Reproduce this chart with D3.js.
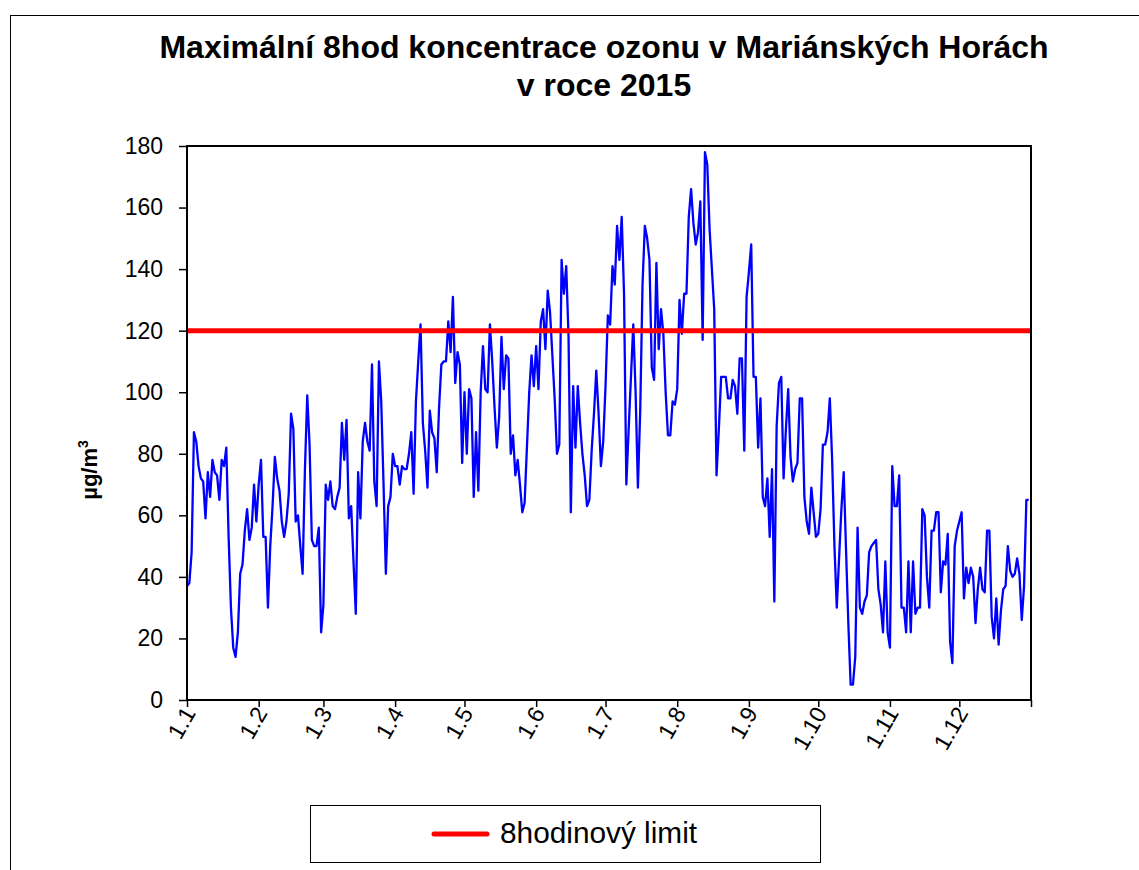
<!DOCTYPE html>
<html>
<head>
<meta charset="utf-8">
<script src="https://cdn.jsdelivr.net/npm/d3@7"></script>
<style>
  html, body { margin: 0; padding: 0; background: #fff; }
  svg { display: block; font-family: "Liberation Sans", Arial, sans-serif; }
</style>
</head>
<body>
<svg id="chart" width="1139" height="870"></svg>
<script>
// ---- data ----
const titleLines = ["Maximální 8hod koncentrace ozonu v Mariánských Horách", "v roce 2015"];
const yLabel = "µg/m";
const limitValue = 120;
const limitLabel = "8hodinový limit";
const monthLabels = ["1.1","1.2","1.3","1.4","1.5","1.6","1.7","1.8","1.9","1.10","1.11","1.12"];
const monthStartDays = [0,31,59,90,120,151,181,212,243,273,304,334];
const yTicks = [0,20,40,60,80,100,120,140,160,180];
const ozone = [
  37, 38, 48, 87, 84, 76, 72, 71, 59, 74,
  66, 78, 74, 73, 65, 78, 76, 82, 53, 30,
  17, 14, 22, 41, 44, 55, 62, 52, 56, 70,
  58, 70, 78, 53, 53, 30, 50, 63, 79, 72,
  68, 58, 53, 58, 67, 93, 88, 58, 60, 50,
  41, 75, 99, 83, 52, 50, 50, 56, 22, 31,
  70, 65, 71, 63, 62, 66, 69, 90, 78, 91,
  59, 63, 45, 28, 74, 59, 84, 90, 84, 81,
  109, 71, 63, 110, 97, 70, 41, 63, 66, 80,
  76, 76, 70, 76, 75, 75, 80, 87, 67, 97,
  110, 122, 90, 81, 69, 94, 87, 85, 74, 95,
  109, 110, 110, 123, 113, 131, 103, 113, 109, 77,
  100, 80, 101, 98, 66, 87, 68, 100, 115, 101,
  100, 122, 110, 95, 82, 92, 118, 101, 112, 111,
  80, 86, 73, 78, 70, 61, 64, 82, 100, 112,
  102, 115, 101, 123, 127, 114, 133, 126, 112, 98,
  80, 83, 143, 132, 141, 118, 61, 102, 82, 102,
  90, 80, 73, 63, 65, 81, 93, 107, 93, 76,
  84, 102, 125, 122, 141, 135, 154, 143, 157, 132,
  70, 88, 105, 122, 100, 69, 94, 135, 154, 150,
  143, 108, 104, 142, 114, 127, 119, 100, 86, 86,
  97, 96, 101, 130, 119, 132, 132, 157, 166, 155,
  148, 152, 162, 117, 178, 174, 153, 140, 127, 73,
  88, 105, 105, 105, 98, 98, 104, 102, 93, 111,
  111, 81, 131, 139, 148, 105, 105, 82, 98, 66,
  63, 72, 53, 75, 32, 89, 103, 105, 72, 88,
  101, 79, 71, 75, 77, 98, 98, 66, 58, 54,
  69, 61, 53, 54, 62, 83, 83, 87, 98, 78,
  50, 30, 46, 62, 74, 49, 25, 5, 5, 14,
  56, 30, 28, 32, 34, 48, 50, 51, 52, 36,
  31, 22, 45, 22, 17, 76, 63, 63, 73, 30,
  30, 22, 45, 22, 45, 28, 30, 30, 62, 60,
  40, 30, 55, 55, 61, 61, 35, 45, 44, 54,
  19, 12, 50, 55, 58, 61, 33, 43, 38, 43,
  40, 25, 36, 43, 36, 35, 55, 55, 27, 20,
  33, 18, 29, 36, 37, 50, 42, 40, 41, 46,
  41, 26, 37, 65, 65
];

// ---- layout ----
const svg = d3.select("#chart");
const plot = { left: 187, top: 146, right: 1031, bottom: 700 };

// outer chart border
svg.append("rect").attr("x", 10.5).attr("y", 15.5).attr("width", 1140).attr("height", 870)
  .attr("fill", "#fff").attr("stroke", "#000").attr("stroke-width", 1);

// title
svg.append("text").attr("x", 604).attr("y", 58).attr("text-anchor", "middle")
  .attr("font-size", 32).attr("font-weight", "bold").text(titleLines[0]);
svg.append("text").attr("x", 604).attr("y", 96).attr("text-anchor", "middle")
  .attr("font-size", 32).attr("font-weight", "bold").text(titleLines[1]);

const x = d3.scaleLinear().domain([0, 365]).range([plot.left, plot.right]);
const y = d3.scaleLinear().domain([0, 180]).range([plot.bottom, plot.top]);

// y axis
const yAxis = svg.append("g").attr("transform", `translate(${plot.left},0)`)
  .call(d3.axisLeft(y).tickValues(yTicks).tickSize(8).tickPadding(16).tickFormat(d3.format("d")));
yAxis.select(".domain").remove();
yAxis.selectAll("line").attr("stroke", "#000").attr("stroke-width", 1.5);
yAxis.selectAll("text").attr("font-size", 23).attr("fill", "#000")
  .attr("font-family", "'Liberation Sans', Arial, sans-serif");

// x axis
const xAxis = svg.append("g").attr("transform", `translate(0,${plot.bottom})`)
  .call(d3.axisBottom(x).tickValues(monthStartDays.concat([365])).tickSize(7)
    .tickFormat((d) => { const i = monthStartDays.indexOf(d); return i >= 0 ? monthLabels[i] : ""; }));
xAxis.select(".domain").remove();
xAxis.selectAll("line").attr("stroke", "#000").attr("stroke-width", 1.5);
xAxis.selectAll("text").attr("font-size", 23).attr("fill", "#000")
  .attr("font-family", "'Liberation Sans', Arial, sans-serif")
  .attr("text-anchor", "end").attr("dy", null).attr("y", 0)
  .attr("transform", "translate(9,13) rotate(-60)");

// data line
const line = d3.line().x((d, i) => x(i)).y((d) => y(d));
svg.append("path").datum(ozone).attr("d", line)
  .attr("fill", "none").attr("stroke", "#0000ff").attr("stroke-width", 2.3).attr("stroke-linejoin", "round");

// limit line
svg.append("line").attr("x1", x(0)).attr("x2", x(365)).attr("y1", y(limitValue)).attr("y2", y(limitValue))
  .attr("stroke", "#ff0000").attr("stroke-width", 5);

// plot frame
svg.append("rect").attr("x", plot.left).attr("y", plot.top)
  .attr("width", plot.right - plot.left).attr("height", plot.bottom - plot.top)
  .attr("fill", "none").attr("stroke", "#000").attr("stroke-width", 2);

// y label
const yl = svg.append("text").attr("transform", "translate(97,470) rotate(-90)")
  .attr("text-anchor", "middle").attr("font-size", 22).attr("font-weight", "bold");
yl.append("tspan").text(yLabel);
yl.append("tspan").attr("font-size", 14).attr("dy", -9).text("3");

// legend
svg.append("rect").attr("x", 310.5).attr("y", 805.5).attr("width", 510).attr("height", 57)
  .attr("fill", "#fff").attr("stroke", "#000").attr("stroke-width", 1);
svg.append("line").attr("x1", 434).attr("x2", 487).attr("y1", 834).attr("y2", 834)
  .attr("stroke", "#ff0000").attr("stroke-width", 5).attr("stroke-linecap", "round");
svg.append("text").attr("x", 500).attr("y", 843).attr("font-size", 29.8).text(limitLabel);
</script>
</body>
</html>
